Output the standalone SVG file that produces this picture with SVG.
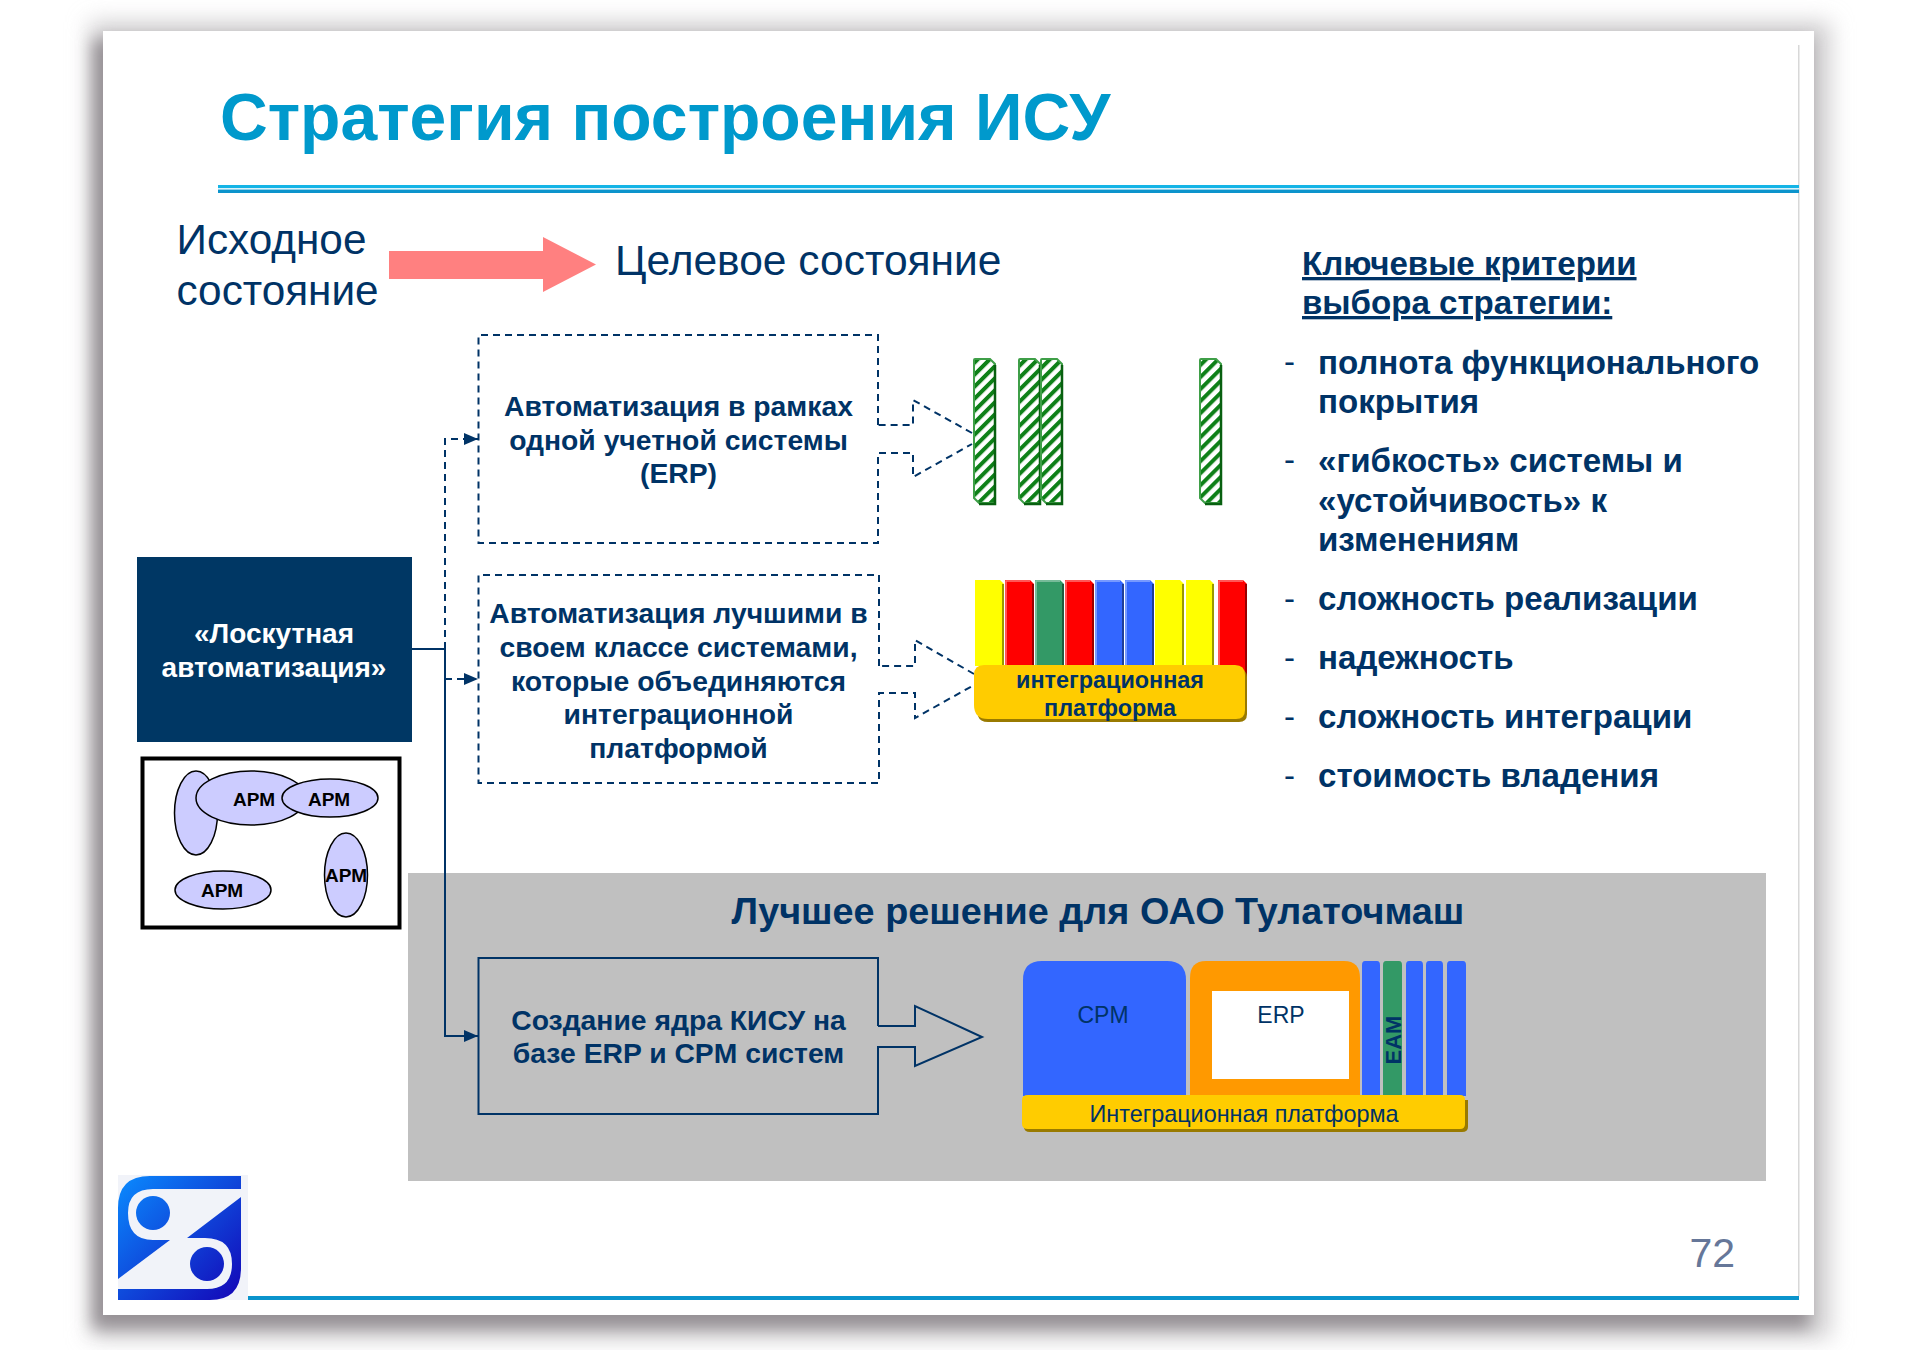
<svg xmlns="http://www.w3.org/2000/svg" width="1910" height="1350" viewBox="0 0 1910 1350">
<style>
text{font-family:"Liberation Sans",Arial,sans-serif;fill:#003366}
.b{font-weight:bold}
.m{text-anchor:middle}
.box{font-size:28.300px;font-weight:bold;text-anchor:middle}
.li{font-size:33.100px;font-weight:bold}
.d{font-size:33px}
.apm{font-size:19px;font-weight:bold;fill:#000;text-anchor:middle}
.el{fill:#ccccff;stroke:#000;stroke-width:1.5}
.ln{fill:none;stroke:#003366;stroke-width:2}
.dash{fill:none;stroke:#003366;stroke-width:2;stroke-dasharray:7 5}
.hb{fill:url(#hatch);stroke:#3f9f48;stroke-width:2}
.hs{fill:none;stroke:#086010;stroke-width:2.500}
.plat{fill:#ffcc00}
.plats{fill:#997a00}
.hl{fill:none;stroke-width:1.5;stroke-opacity:.45;stroke:#fff}
</style>
<defs>
<filter id="s1" x="-5%" y="-5%" width="110%" height="110%"><feGaussianBlur stdDeviation="8"/></filter>
<filter id="s2" x="-5%" y="-5%" width="110%" height="110%"><feGaussianBlur stdDeviation="11"/></filter>
<linearGradient id="lg2" gradientUnits="userSpaceOnUse" x1="118" y1="1175" x2="248" y2="1300"><stop offset="0" stop-color="#0a8cff"/><stop offset="1" stop-color="#1400b4"/></linearGradient>
<pattern id="hatch" patternUnits="userSpaceOnUse" width="8.500" height="8.500" patternTransform="rotate(-45)"><rect width="8.500" height="8.500" fill="#fff"/><rect width="8.500" height="4" fill="#0e8018"/></pattern>
<marker id="ah" viewBox="0 0 14 12" refX="14" refY="6" markerWidth="14" markerHeight="12" markerUnits="userSpaceOnUse" orient="auto"><path d="M0 0L14 6L0 12Z" fill="#003366"/></marker>
</defs>

<g id="slide">
<rect x="90" y="22" width="1740" height="1316" fill="#cfcdcf" filter="url(#s2)"/>
<rect x="93" y="40" width="1716" height="1288" fill="#959094" filter="url(#s1)"/>
<rect x="103" y="31" width="1711" height="1284" fill="#fff"/>
<rect x="1798" y="45" width="1.500" height="1251" fill="#d8d8d8"/>
<rect x="218" y="185" width="1581" height="3" fill="#14b4e6"/>
<rect x="218" y="188" width="1581" height="1.600" fill="#d8f2fb"/>
<rect x="218" y="189.600" width="1581" height="3.400" fill="#0c94cc"/>
<rect x="248" y="1296" width="1551" height="4" fill="#0a94cc"/>
<rect x="408" y="873" width="1358" height="308" fill="#c0c0c0"/>
</g>

<g id="logo">
<rect x="118" y="1175" width="130" height="125" fill="#f1f3f9"/>
<path d="M241 1176H150Q118 1176 118 1208V1279L170 1240H153Q128 1240 128 1213Q128 1189 153 1189H241Z" fill="url(#lg2)"/>
<circle cx="153" cy="1213" r="17" fill="url(#lg2)"/>
<path d="M118 1300H210Q241 1300 241 1268V1197L187 1238H205Q232 1238 232 1264Q232 1289 207 1289H118Z" fill="url(#lg2)"/>
<circle cx="207" cy="1264" r="17" fill="url(#lg2)"/>
</g>

<text id="title" x="220" y="140" class="b" font-size="66.100" style="fill:#0099cc">Стратегия построения ИСУ</text>
<text id="page" x="1689.500" y="1267" font-size="41" style="fill:#667799">72</text>

<g id="state-from"><text x="176.500" y="254" font-size="42.300">Исходное</text><text x="176.500" y="305" font-size="42.300">состояние</text></g>
<g id="transition"><path d="M389 251H543V237L596 264.500L543 292V279H389Z" fill="#ff8080"/></g>
<g id="state-to"><text x="615" y="275" font-size="42.500">Целевое состояние</text></g>

<g id="criteria">
<text x="1302" y="275" class="li" text-decoration="underline">Ключевые критерии</text>
<text x="1302" y="314" class="li" text-decoration="underline">выбора стратегии:</text>
<text x="1284" y="373" class="d">-</text><text x="1318" y="373.500" class="li">полнота функционального</text><text x="1318" y="413" class="li">покрытия</text>
<text x="1284" y="471" class="d">-</text><text x="1318" y="471.500" class="li">«гибкость» системы и</text><text x="1318" y="511.500" class="li">«устойчивость» к</text><text x="1318" y="551" class="li">изменениям</text>
<text x="1284" y="610" class="d">-</text><text x="1318" y="610" class="li">сложность реализации</text>
<text x="1284" y="669" class="d">-</text><text x="1318" y="669" class="li">надежность</text>
<text x="1284" y="728" class="d">-</text><text x="1318" y="728" class="li">сложность интеграции</text>
<text x="1284" y="787" class="d">-</text><text x="1318" y="787" class="li">стоимость владения</text>
</g>

<g id="connectors">
<path class="ln" d="M412 649H445V1036H478" marker-end="url(#ah)"/>
<path class="dash" d="M445 649V439H478" marker-end="url(#ah)"/>
<path class="dash" d="M445 679H478" marker-end="url(#ah)"/>
</g>

<g id="patchwork">
<rect x="137" y="557" width="275" height="185" fill="#003764"/>
<text x="274" y="643" class="b m" font-size="28" style="fill:#fff">«Лоскутная</text>
<text x="274" y="677" class="b m" font-size="28" style="fill:#fff">автоматизация»</text>
</g>

<g id="arm-frame">
<rect x="142.500" y="758.500" width="257" height="169" fill="#fff" stroke="#000" stroke-width="4"/>
<ellipse class="el" cx="196" cy="813" rx="21.500" ry="42"/>
<ellipse class="el" cx="251" cy="798" rx="55" ry="27"/>
<ellipse class="el" cx="330" cy="798" rx="48" ry="19"/>
<ellipse class="el" cx="223" cy="890" rx="48" ry="19"/>
<ellipse class="el" cx="346" cy="875" rx="21.500" ry="42"/>
<text x="254" y="806" class="apm">АРМ</text><text x="329" y="806" class="apm">АРМ</text><text x="222" y="897" class="apm">АРМ</text><text x="346" y="882" class="apm">АРМ</text>
</g>

<g id="option-erp">
<path class="dash" d="M878 425V335H478.500V543H878V453H913V477L972 444M972 433L913 400V425H878"/>
<text x="678.500" y="416" class="box">Автоматизация в рамках</text>
<text x="678.500" y="450" class="box">одной учетной системы</text>
<text x="678.500" y="483" class="box">(ERP)</text>
</g>

<g id="option-best">
<path class="dash" d="M879 666V575H478.500V783H879V693H915V718L974 685M974 674L915 640V666H879"/>
<text x="678.500" y="623" class="box">Автоматизация лучшими в</text>
<text x="678.500" y="657" class="box">своем классе системами,</text>
<text x="678.500" y="691" class="box">которые объединяются</text>
<text x="678.500" y="724" class="box">интеграционной</text>
<text x="678.500" y="758" class="box">платформой</text>
</g>

<g id="hatched-bars">
<path class="hb" d="M974 360Q974 359 975 359H990L995 364V503H979L974 498Z"/><path class="hs" d="M995 365V504H979"/>
<path class="hb" d="M1019 360Q1019 359 1020 359H1035L1040 364V503H1024L1019 498Z"/><path class="hs" d="M1040 365V504H1024"/>
<path class="hb" d="M1041 360Q1041 359 1042 359H1057L1062 364V503H1046L1041 498Z"/><path class="hs" d="M1062 365V504H1046"/>
<path class="hb" d="M1200 360Q1200 359 1201 359H1216L1221 364V503H1205L1200 498Z"/><path class="hs" d="M1221 365V504H1205"/>
</g>

<g id="color-bars">
<path d="M975 580H1000L1004 584V666H975Z" fill="#ffff00"/><rect x="1002" y="584" width="2" height="82" fill="#999900"/>
<path d="M1005 580H1030L1034 584V666H1005Z" fill="#ff0000"/><rect x="1032" y="584" width="2" height="82" fill="#990000"/><path class="hl" d="M1006 666V581H1030"/>
<path d="M1035 580H1060L1064 584V666H1035Z" fill="#339966"/><rect x="1062" y="584" width="2" height="82" fill="#1f5c3d"/><path class="hl" d="M1036 666V581H1060"/>
<path d="M1065 580H1090L1094 584V666H1065Z" fill="#ff0000"/><rect x="1092" y="584" width="2" height="82" fill="#990000"/><path class="hl" d="M1066 666V581H1090"/>
<path d="M1095 580H1120L1124 584V666H1095Z" fill="#3366ff"/><rect x="1122" y="584" width="2" height="82" fill="#1f3d99"/><path class="hl" d="M1096 666V581H1120"/>
<path d="M1125 580H1150L1154 584V666H1125Z" fill="#3366ff"/><rect x="1152" y="584" width="2" height="82" fill="#1f3d99"/><path class="hl" d="M1126 666V581H1150"/>
<path d="M1155 580H1180L1184 584V666H1155Z" fill="#ffff00"/><rect x="1182" y="584" width="2" height="82" fill="#999900"/>
<path d="M1186 580H1210L1214 584V666H1186Z" fill="#ffff00"/><rect x="1212" y="584" width="2" height="82" fill="#999900"/>
<path d="M1218 580H1243L1247 584V680H1218Z" fill="#ff0000"/><rect x="1245" y="584" width="2" height="96" fill="#990000"/><path class="hl" d="M1219 666V581H1243"/>
</g>

<g id="platform-small">
<path class="plats" d="M985 670H1240Q1247 670 1247 677V714Q1247 722 1239 722H988Q980 722 978 716Z"/>
<path class="plat" d="M984 665H1235Q1245 665 1245 675V710Q1245 719 1236 719H988Q974 719 974 705V675Q974 665 984 665Z"/>
<text x="1110" y="688" class="b m" font-size="23.400">интеграционная</text>
<text x="1110" y="716" class="b m" font-size="23.400">платформа</text>
</g>

<g id="solution-title"><text x="1098" y="924" class="b m" font-size="37.800">Лучшее решение для ОАО Тулаточмаш</text></g>

<g id="option-core">
<path class="ln" d="M878 1026V958H478.500V1114H878V1047H915V1066L982 1037L915 1006V1026H878"/>
<text x="678.500" y="1030" class="box">Создание ядра КИСУ на</text>
<text x="678.500" y="1063" class="box">базе ERP и CPM систем</text>
</g>

<g id="stack">
<path d="M1023 1096V980Q1023 961 1042 961H1167Q1186 961 1186 980V1096Z" fill="#3366ff"/>
<path d="M1190 1096V978Q1190 961 1206 961H1344Q1360 961 1360 978V1096Z" fill="#ff9900"/>
<rect x="1212" y="991" width="137" height="88" fill="#fff"/>
<path d="M1362 1096V965Q1362 961 1365 961H1377Q1380 961 1380 965V1096Z" fill="#3366ff"/>
<path d="M1383 1096V965Q1383 961 1386 961H1399Q1402 961 1402 965V1096Z" fill="#339966"/>
<path d="M1406 1096V965Q1406 961 1409 961H1420Q1423 961 1423 965V1096Z" fill="#3366ff"/>
<path d="M1426 1096V965Q1426 961 1429 961H1440Q1443 961 1443 965V1096Z" fill="#3366ff"/>
<path d="M1447 1096V965Q1447 961 1450 961H1463Q1466 961 1466 965V1096Z" fill="#3366ff"/>
<text x="1103" y="1022.500" class="m" font-size="23">CPM</text>
<text x="1281" y="1022.500" class="m" font-size="23">ERP</text>
<text transform="translate(1401 1040) rotate(-90)" class="b m" font-size="22">EAM</text>
<path class="plats" d="M1026 1100H1468V1127Q1468 1132 1462 1132H1030Q1024 1132 1024 1127Z"/>
<path class="plat" d="M1028 1095H1460Q1465 1095 1465 1100V1124Q1465 1129 1460 1129H1028Q1022 1129 1022 1124V1100Q1022 1095 1028 1095Z"/>
<text x="1244" y="1122" class="m" font-size="23.400">Интеграционная платформа</text>
</g>
</svg>
